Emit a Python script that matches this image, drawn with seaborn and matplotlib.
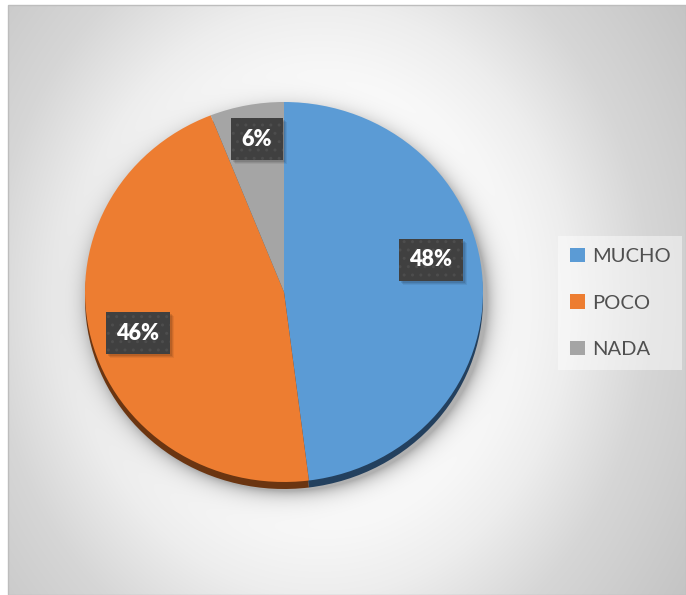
import numpy as np
import matplotlib
matplotlib.use("Agg")
import matplotlib.pyplot as plt
import seaborn as sns
from matplotlib.patches import Rectangle

# Survey answers
categories = ["MUCHO", "POCO", "NADA"]
values = [48, 46, 6]
face_colors = ["#5B9BD5", "#ED7D31", "#A5A5A5"]
rim_colors = ["#23405E", "#6B3511", "#4F4F4F"]

sns.set_theme(style="white")
plt.rcParams["font.family"] = ["Lato", "DejaVu Sans"]
palette = sns.color_palette(face_colors)
rim_palette = sns.color_palette(rim_colors)

W, H = 686, 595
fig = plt.figure(figsize=(W / 100, H / 100), dpi=100)
fig.patch.set_facecolor("white")

# Background panel with a soft radial gradient and the pie's drop shadow
bg = fig.add_axes([0, 0, 1, 1])
bg.set_xlim(0, W)
bg.set_ylim(H, 0)
bg.axis("off")
x0, y0 = 8, 5
xs = np.arange(x0, W) + 0.5
ys = np.arange(y0, H) + 0.5
X, Y = np.meshgrid(xs, ys)
rn = np.sqrt(((X - 320) / 340) ** 2 + ((Y - 300) / 400) ** 2)
shade = np.interp(rn, [0, 0.5, 0.74, 0.97, 1.3], [1.0, 0.99, 0.93, 0.84, 0.77])
# soft shadow under the pie
cx, cy, rx, ry = 288, 301, 199, 190
re = np.sqrt(((X - cx) / rx) ** 2 + ((Y - cy) / ry) ** 2)
d = (re - 1) * 195
sh = 0.30 * np.exp(-np.clip(d, 0, None) / 9.0)
shade = shade * (1 - sh)
img = np.dstack([shade] * 3)
bg.imshow(img, extent=[x0, W, H, y0], interpolation="bilinear", aspect="auto", zorder=0)
bg.add_patch(Rectangle((x0, y0), W - x0, H - y0, fill=False, edgecolor="#bdbdbd", lw=1, zorder=1))

# Pie axes: slightly flattened ellipse
pcx, pcy, prx, pry = 284, 292, 199, 190
pie_ax = fig.add_axes([(pcx - prx) / W, 1 - (pcy + pry) / H, 2 * prx / W, 2 * pry / H])
pie_ax.axis("off")
depth = 7 / pry
pie_ax.pie(values, colors=rim_palette, startangle=90, counterclock=False,
           radius=1, center=(0, -depth), wedgeprops=dict(linewidth=0), frame=False)
wedges, _ = pie_ax.pie(values, colors=palette, startangle=90, counterclock=False,
                       radius=1, center=(0, 0), wedgeprops=dict(linewidth=0), frame=False)
pie_ax.set_aspect("auto")
pie_ax.set_xlim(-1, 1)
pie_ax.set_ylim(-1, 1)

# Percentage labels in dark boxes
label_pos = [(431, 260), (138, 333), (257, 139)]
labels = []
for v, (lx, ly) in zip(values, label_pos):
    t = fig.text(lx, ly, f"{v}%", transform=bg.transData, ha="center", va="center",
                 fontsize=15.5, fontweight="heavy", color="white", zorder=5,
                 bbox=dict(boxstyle="square,pad=0.5", facecolor="#404040", edgecolor="#4d4d4d",
                           linewidth=0, hatch=".."))
    labels.append(t)

# Soft drop shadows behind the label boxes
fig.canvas.draw()
for t in labels:
    ext = t.get_bbox_patch().get_window_extent()
    for k, a in [(4, 0.06), (3, 0.08), (2, 0.10)]:
        fig.add_artist(Rectangle((ext.x0 + k, ext.y0 - k), ext.width, ext.height,
                                 transform=None, facecolor="black", alpha=a,
                                 linewidth=0, zorder=4))

# Legend
leg = fig.legend(wedges, categories, loc="center left",
                 bbox_to_anchor=(558 / W, 1 - 303 / H), fontsize=14.5,
                 handlelength=0.72, handleheight=0.72, handletextpad=0.35,
                 labelspacing=1.45, borderpad=0.6, frameon=True, fancybox=False,
                 facecolor="white", edgecolor="none", framealpha=0.45,
                 borderaxespad=0)
for t in leg.get_texts():
    t.set_color("#505050")

fig.savefig("out.png", dpi=100)
